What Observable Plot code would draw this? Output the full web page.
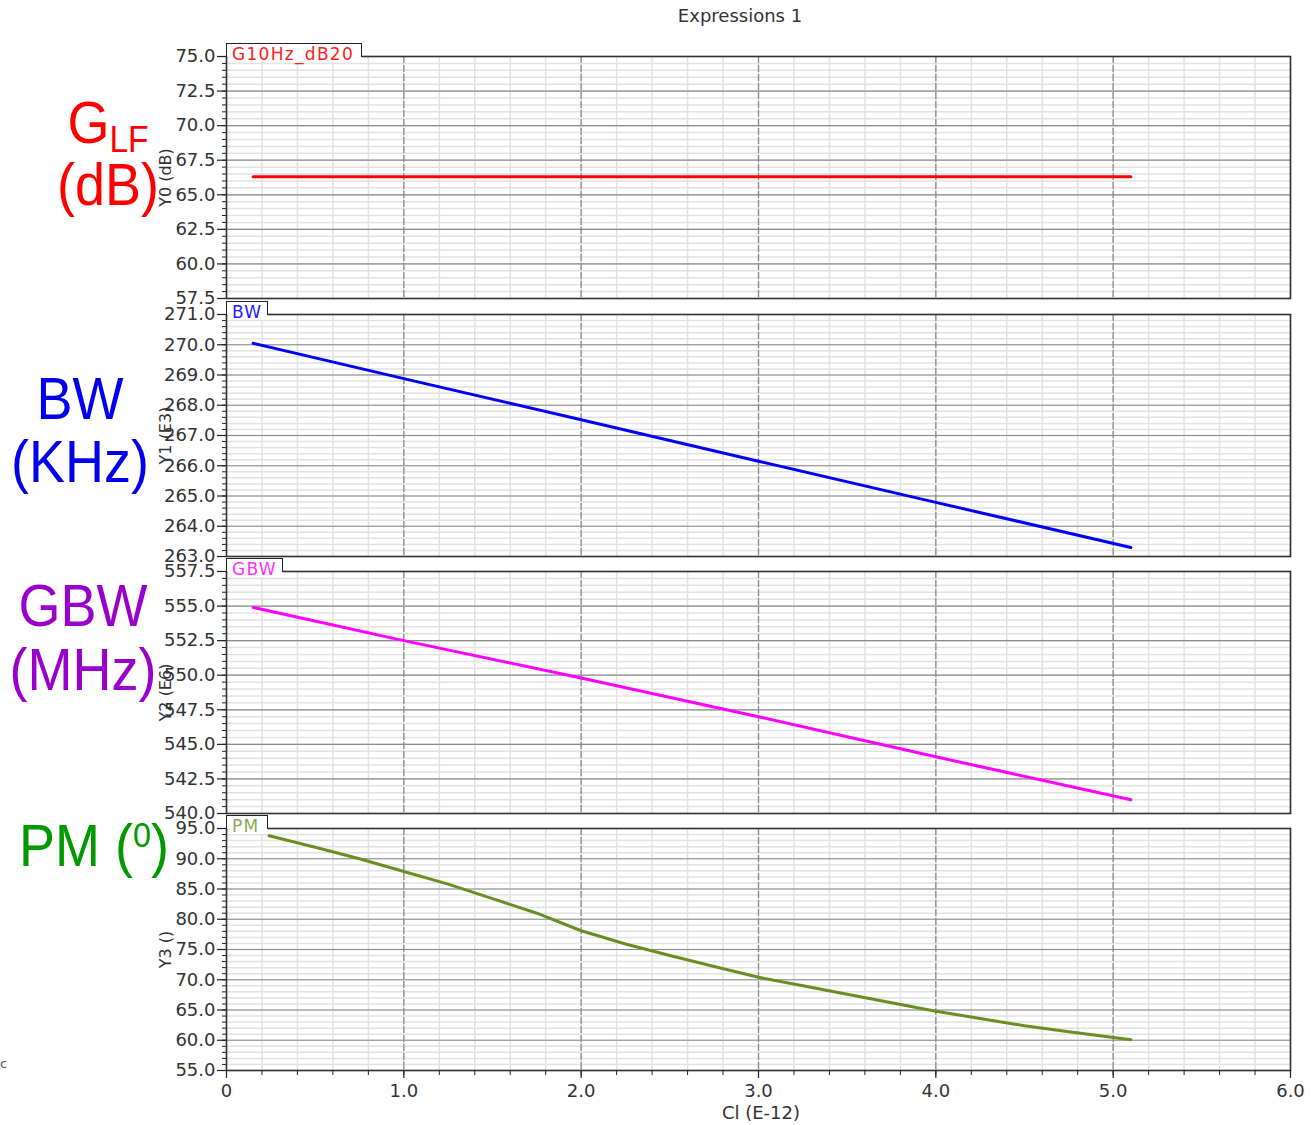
<!DOCTYPE html>
<html>
<head>
<meta charset="utf-8">
<script src="https://cdn.jsdelivr.net/npm/d3@7"></script>
<script src="https://cdn.jsdelivr.net/npm/@observablehq/plot@0.6"></script>
<style>
  body { margin: 0; background: #fff; }
  #wrap { position: relative; width: 1311px; height: 1125px; overflow: hidden; font-family: "DejaVu Sans", sans-serif; }
  .abs { position: absolute; }
  .plot svg { overflow: visible; }
  .big { position: absolute; font-family: "Liberation Sans", Arial, sans-serif; font-size: 54px; line-height: 1; white-space: nowrap; transform-origin: 50% 100%; transform: scaleY(1.08); }
  .tab { position: absolute; background: #fff; border: 1.5px solid #222; border-bottom: none; box-sizing: border-box; font-family: "DejaVu Sans", sans-serif; font-size: 17px; letter-spacing: 1.3px; line-height: 1; padding-left: 5px; padding-top: 2px; }
  .tabfill { position: absolute; background: #fff; }
  .ytitle { position: absolute; font-size: 16px; color: #333; transform: rotate(-90deg); transform-origin: center center; white-space: nowrap; }
</style>
</head>
<body>
<div id="wrap"></div>
<script>
// ---- data ----
const xDomain = [0, 6];
const xMajorTicks = [0, 1, 2, 3, 4, 5, 6];
const xMinorStep = 0.2;

const gX = [0.15, 5.1];
const gY = [66.3, 66.3];

const bwX = [0.15, 1.0, 2.0, 3.0, 4.0, 5.1];
const bwY = [270.05, 268.88, 267.52, 266.15, 264.79, 263.30];

const gbwX = [0.15, 1.0, 2.0, 3.0, 4.0, 5.1];
const gbwY = [554.9, 552.5, 549.8, 547.0, 544.1, 541.0];

const pmX = [0.24, 0.5, 0.75, 1.0, 1.25, 1.5, 1.75, 2.0, 2.25, 2.5, 2.75, 3.0, 3.25, 3.5, 3.75, 4.0, 4.25, 4.5, 4.75, 5.1];
const pmY = [93.8, 91.9, 90.0, 87.9, 85.8, 83.4, 81.0, 78.1, 75.9, 74.0, 72.2, 70.4, 69.0, 67.6, 66.2, 64.8, 63.6, 62.4, 61.4, 60.1];

const g_yTicks = [57.5, 60.0, 62.5, 65.0, 67.5, 70.0, 72.5, 75.0];
const bw_yTicks = [263, 264, 265, 266, 267, 268, 269, 270, 271];
const gbw_yTicks = [540.0, 542.5, 545.0, 547.5, 550.0, 552.5, 555.0, 557.5];
const pm_yTicks = [55, 60, 65, 70, 75, 80, 85, 90, 95];

const panels = [
  {name: "G10Hz_dB20", xs: gX, ys: gY, ticks: g_yTicks, minor: 0.5, color: "#ff0000", tabColor: "#ff2020", ytitle: "Y0 (dB)", top: 56, tabRight: 362},
  {name: "BW", xs: bwX, ys: bwY, ticks: bw_yTicks, minor: 0.2, color: "#0000ff", tabColor: "#2020ff", ytitle: "Y1 (E3)", top: 314, tabRight: 268},
  {name: "GBW", xs: gbwX, ys: gbwY, ticks: gbw_yTicks, minor: 0.5, color: "#ff00ff", tabColor: "#ff30ff", ytitle: "Y2 (E6)", top: 571, tabRight: 283},
  {name: "PM", xs: pmX, ys: pmY, ticks: pm_yTicks, minor: 1, color: "#6b8e23", tabColor: "#8fa85a", ytitle: "Y3 ()", top: 828, tabRight: 268}
];

const bigLabels = [
  {html: "G<sub style='font-size:0.62em;vertical-align:-0.25em'>LF</sub>", color: "#ff0000", cx: 108, top: 98},
  {html: "(dB)", color: "#ff0000", cx: 108, top: 160},
  {html: "BW", color: "#0000ee", cx: 80, top: 374},
  {html: "(KHz)", color: "#0000ee", cx: 80, top: 437},
  {html: "GBW", color: "#9900cc", cx: 83, top: 581},
  {html: "(MHz)", color: "#9900cc", cx: 83, top: 645},
  {html: "PM (<sup style='font-size:0.6em;vertical-align:0.55em'>0</sup>)", color: "#009900", cx: 94, top: 821}
];

// ---- layout ----
const W = 1311, mL = 226, mR = 21, mT = 14, plotH = 242;
const wrap = document.getElementById("wrap");

function addDiv(cls, css, html) {
  const d = document.createElement("div");
  d.className = cls;
  Object.assign(d.style, css);
  if (html != null) d.innerHTML = html;
  wrap.appendChild(d);
  return d;
}

// title
addDiv("abs", {left: "0px", width: "1480px", top: "5px", textAlign: "center", fontSize: "18px", color: "#333"}, "Expressions 1");

panels.forEach((p, i) => {
  const last = i === panels.length - 1;
  const mB = last ? 55 : 2;
  const data = p.xs.map((x, k) => ({x, y: p.ys[k]}));
  const yDom = [p.ticks[0], p.ticks[p.ticks.length - 1]];
  const yMinor = d3.range(yDom[0], yDom[1] + p.minor / 2, p.minor);
  const xMinor = d3.range(xDomain[0], xDomain[1] + xMinorStep / 2, xMinorStep);
  const marks = [
    Plot.gridY(yMinor, {stroke: "#e2e2e2", strokeOpacity: 1, strokeWidth: 1.5}),
    Plot.gridX(xMinor, {stroke: "#e2e2e2", strokeOpacity: 1, strokeWidth: 1.5}),
    Plot.gridY(p.ticks, {stroke: "#8c8c8c", strokeOpacity: 1, strokeWidth: 1.2}),
    Plot.gridX(xMajorTicks.slice(1, -1), {stroke: "#8c8c8c", strokeOpacity: 1, strokeWidth: 1.3, strokeDasharray: "7,2"}),
    Plot.line(data, {x: "x", y: "y", stroke: p.color, strokeWidth: 3}),
    Plot.frame({stroke: "#333", strokeWidth: 1.6}),
    Plot.axisY(yMinor, {tickSize: 4, tickFormat: () => "", stroke: "#222", label: null}),
    Plot.axisY(p.ticks, {tickSize: 9, tickPadding: 2, tickFormat: d3.format(".1f"), fontSize: 18, fill: "#333", stroke: "#222", strokeWidth: 1.2, label: null})
  ];
  if (last) {
    marks.push(
      Plot.axisX(xMinor, {tickSize: 5, tickFormat: () => "", stroke: "#222", label: null}),
      Plot.axisX(xMajorTicks, {tickSize: 8, tickPadding: 6, tickFormat: d => d === 0 ? "0" : d3.format(".1f")(d), fontSize: 18, fill: "#333", stroke: "#222", strokeWidth: 1.2, label: null})
    );
  }
  const chart = Plot.plot({
    width: W,
    height: mT + plotH + mB,
    marginLeft: mL, marginRight: mR, marginTop: mT, marginBottom: mB,
    style: {background: "transparent", fontFamily: "DejaVu Sans, sans-serif", overflow: "visible"},
    x: {domain: xDomain, axis: null},
    y: {domain: yDom, axis: null},
    marks
  });
  const holder = addDiv("abs plot", {left: "0px", top: (p.top - mT) + "px"});
  holder.appendChild(chart);

  // tab label
  const tabTop = p.top - 13;
  addDiv("tabfill", {left: "228px", top: (p.top - 1) + "px", width: (p.tabRight - 228) + "px", height: "7px"});
  addDiv("tab", {left: "226px", top: tabTop + "px", width: (p.tabRight - 226) + "px", height: "14px", color: p.tabColor}, p.name);

  // rotated axis title
  addDiv("ytitle", {left: "125px", width: "80px", textAlign: "center", top: (p.top + 112) + "px"}, p.ytitle);
});

// x axis label
addDiv("abs", {left: "0px", width: "1522px", top: "1102px", textAlign: "center", fontSize: "18px", color: "#333"}, "Cl (E-12)");
// stray partial glyph at far left
addDiv("abs", {left: "0px", top: "1056px", fontSize: "13px", color: "#555"}, "c");

// big left labels
bigLabels.forEach(b => {
  const d = addDiv("big", {top: b.top + "px", color: b.color}, b.html);
  const w = d.getBoundingClientRect().width;
  d.style.left = (b.cx - w / 2) + "px";
});
</script>
</body>
</html>
